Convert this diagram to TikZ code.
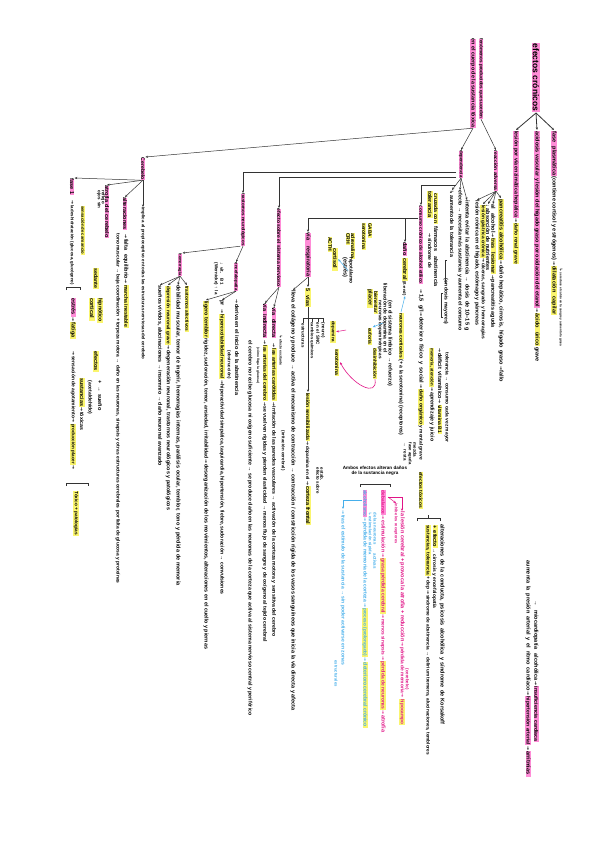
\documentclass[tikz,border=0pt]{standalone}
\usepackage{fontspec}
\setmainfont{Liberation Sans}
\newfontfamily\dvf{DejaVu Sans}
\usetikzlibrary{arrows.meta}
\definecolor{hlp}{RGB}{255,140,215}
\definecolor{hly}{RGB}{250,245,110}
\definecolor{mgt}{RGB}{225,20,135}
\definecolor{cyn}{RGB}{70,175,235}
\newcommand\fsA{\fontsize{4.6}{5.5}\selectfont\bfseries}
\newcommand\fsB{\fontsize{3.7}{4.5}\selectfont\bfseries}
\makeatletter
\newlength\tTl
\newlength\tTm
\newcommand\tT[2]{\sbox\z@{#2}%
 \setlength\tTl{\dimexpr \f@size pt * \numexpr #1*65536\relax / \number\wd\z@\relax}%
 \setlength\tTm{\dimexpr \f@size pt * 6 / 5\relax}%
 \ifdim\tTl>\tTm \setlength\tTl{\tTm}\fi
 {\fontsize{\tTl}{\tTl}\selectfont\makebox[#1pt][s]{#2}}}
\makeatother
\newcommand\hP[2]{{\fboxsep=0.6pt\colorbox{hlp}{\tT{#1}{#2}}}}
\newcommand\hY[2]{{\fboxsep=0.6pt\colorbox{hly}{\tT{#1}{#2}}}}
\newcommand\aR{\hspace{0.8pt}{\dvf →}\hspace{0.8pt}}
\newcommand\dR{{\dvf ↳}}
\tikzset{
 txt/.style={rotate=-90, anchor=west, inner sep=0pt, outer sep=0.6pt, font=\fsA},
 sm/.style={txt, font=\fsB},
 arr/.style={-{Stealth[length=2.6pt,width=2.2pt]}, line width=0.5pt, draw=black!80},
 ln/.style={line width=0.5pt, draw=black!80},
}
\begin{document}
\begin{tikzpicture}[x=1pt,y=-1pt]
\fill[white] (0,0) rectangle (600,848);
\useasboundingbox (0,0) rectangle (600,848);

% ---------- title and top-right branch ----------
\node[txt, font=\fontsize{8}{9}\selectfont\bfseries, fill=hlp, inner sep=0.9pt] (T) at (536,42) {\tT{68}{efectos crónicos}};
\node[txt] (c1) at (516,130) {\hP{86}{lesión por vía enzimática hepática}\aR\hY{40}{daño renal grave}};
\node[txt] (c2) at (537,130) {\hP{176}{acidosis vascular y lesión del hígado graso por oxidación del etanol}\aR\hY{32}{ácido úrico}\,\tT{16}{grave}};
\node[txt] (c3) at (554,130) {\hP{44}{fase plasmática}\,\tT{84}{(contiene cortisol y estrógenos)}\aR\hY{48}{dilatación capilar}};
\node[sm] (c3b) at (561,268) {\dR\,\tT{74}{se reduce el calcio en la sangre y aumenta la grasa}};
\draw[arr, line width=0.8pt] (T.east) -- (c1.west);
\draw[arr, line width=0.8pt] (T.east) -- (c2.west);
\draw[arr, line width=0.8pt] (T.east) -- (c3.west);

% ---------- fenomenos ----------
\node[txt, fill=hlp] (F1) at (481,38) {\tT{80}{fenómenos producidos que suceden}};
\node[txt, fill=hlp] (F2) at (473,38) {\tT{89}{en el cuerpo de la sustancia tóxica}};
\node[txt, fill=hlp] (S1) at (461,150) {\tT{27}{dependencia}};
\node[txt, fill=hlp] (S2) at (496,150) {\tT{40}{reacción adversa}};
\draw[arr] (F2.east) -- (S1.west);
\draw[arr] (F1.east) -- (S2.west);

% reaccion adversa children
\node[txt] (r1) at (477,200) {\tT{125}{lesión crónica en el hígado, estómago y páncreas}};
\node[txt] (r2) at (483,204) {\hY{52}{lesión gástrica crónica}\aR\tT{76}{úlceras, sangrado y hemorragias}};
\node[txt] (r3) at (488,204) {\tT{66}{↓ absorción de nutrientes}};
\node[txt] (r4) at (493,204) {\tT{28}{al alcohol}\aR\hY{35}{tras lesionar}\aR\tT{48}{pancreatitis aguda}};
\node[txt] (r5) at (501,198) {\hY{60}{pancreatitis alcohólica}\aR\tT{100}{daño hepático, cirrosis, hígado graso}\aR\tT{14}{fallo}};
\foreach \r in {r1,r2,r3,r4,r5} \draw[arr] (S2.east) -- (\r.west);

% dependencia children
\node[txt] (d1) at (452,190) {\dR\,\tT{62}{aumento de la tolerancia}};
\node[txt] (d2) at (460,190) {\tT{140}{efecto → necesita más sustancia y aumenta el consumo}};
\node[txt] (d3) at (467,200) {\tT{130}{intenta evitar la abstinencia → dosis de 10–15 g}};
\node[txt] (d4) at (430,190) {\hY{26}{tolerancia}};
\node[txt] (d5) at (436,192) {\hY{30}{cruzada con}};
\node[txt] (d6) at (436,226) {\tT{26}{fármacos}};
\node[txt] (d7) at (446,278) {\tT{46}{(en dosis mayores)}};
\node[txt] (q1) at (430,232) {\aR\tT{30}{síndrome de}};
\node[txt] (q2) at (436,256) {\tT{30}{abstinencia}};
\draw[arr] (S1.east) -- (d1.west);
\draw[arr] (S1.east) -- (d2.west);
\draw[arr] (S1.east) -- (d3.west);
\draw[ln] (443,293) -- (441,293) -- (441,317) -- (443,317);
\draw[ln] (447,260) -- (445,260) -- (445,283) -- (447,283);
\node[txt] (q3) at (432,347) {\hY{38}{memoria, atención}\aR\tT{49}{aprendizaje y juicio}};
\node[txt] (q4) at (440,347) {\aR\tT{46}{déficit vitamínico}\aR\hY{28}{vitamina B1}};
\node[txt] (q5) at (447,352) {\tT{90}{tolerancia → consumo cada vez mayor}};

% ---------- consumo cronico ----------
\node[txt, fill=hlp] (P) at (421,205) {\tT{78}{consumo crónico de alcohol etílico}};
\node[txt] (P2) at (421,288) {\aR\tT{18}{1,5 g/l}\aR\tT{66}{deterioro físico y social}\aR\hY{35}{daño orgánico}\,\tT{34}{y mental grave}};
\node[txt, fill=hlp] (DA) at (405,242) {\tT{13}{daño}};
\node[txt] (DA2) at (405,257) {\hY{22}{cerebral}\,\tT{14}{(ß-end)}};
\node[txt] (n1) at (401,312) {\hY{45}{neuronas corticales}\,\tT{76}{(+ a la serotonina) (receptores)}};
\node[txt] (n3) at (385,283) {\tT{69}{liberación de dopamina en el}};
\node[txt] (n4) at (390,300) {\tT{86}{(en el sistema límbico → refuerzo)}};
\node[txt] (n5) at (380,300) {\tT{58}{neuronas dopaminérgicas}};
\node[txt] (y1) at (370,288) {\hY{18}{placer}};
\node[txt] (y2) at (376,290) {\hY{22}{bienestar}};
\node[txt] (y3) at (370,327) {\hY{16}{euforia}};
\node[txt] (y4) at (375,347) {\hY{30}{desinhibición}};
\node[txt] (m7) at (364,222) {\hY{26}{serotonina}};
\node[txt] (m8) at (370,222) {\hY{14}{GABA}};
\node[txt] (m1) at (330,236) {\hY{14}{ACTH}};
\node[txt] (m2) at (335,247) {\hY{22}{cortisol}};
\node[txt] (m3) at (348,232) {\hY{11}{CRH}};
\node[txt] (m4) at (353,232) {\hY{25}{adrenalina}};
\node[txt] (m5) at (345,257) {\tT{21}{(estrés)}};
\node[txt] (m6) at (351,257) {\tT{26}{hipotálamo}};
\node[txt] (pk1) at (333,320) {\hY{21}{dopamina}};
\node[txt] (pk2) at (337,348) {\hY{26}{serotonina}};
\coordinate (pD) at (405,218);
\draw[arr] (pD) -- (DA.west);
\draw[arr, draw=cyn] (n1.west) -- (DA2.east);
\coordinate (ca1) at (383,323);
\draw[arr, draw=cyn] (ca1) -- (y3.north west);
\draw[arr, draw=cyn] (m6.south) -- (m2.north);
\coordinate (pa1) at (346,330);
\draw[arr, draw=mgt] (pa1) -- (pk1.north);
\draw[arr, draw=mgt, line width=0.6pt] (y4.east) .. controls (378,398) and (352,385) .. (pk2.north);

% lines from dependencia
\coordinate (k1) at (456,172);
\coordinate (k2) at (456,177);
\coordinate (k3) at (456,185);
\coordinate (pL) at (418,218);

% ---------- trastornos neurologicos ----------
\node[txt, fill=hlp] (TN) at (243,193) {\tT{52}{trastornos neurológicos}};
\node[txt, fill=hlp] (HE) at (236,262) {\tT{28}{encefalopatía}};
\node[sm] (w1) at (216,262) {\tT{32}{(Wernicke) ↑ la}};
\node[sm] (w2) at (222,262) {\tT{22}{↓ vit. B1}};
\node[txt, fill=hlp] (HM) at (180,253) {\tT{22}{hemorragia}};
\draw[arr] (TN.east) -- (HE.west);
\draw[arr] (TN.south east) -- (HM.north west);
\node[txt] (h1) at (160,285) {\tT{180}{sueños vívidos, alucinaciones → insomnio → daño neuronal avanzado}};
\node[txt] (h2) at (168,285) {\hY{58}{depresión neuronal grave}\aR\tT{160}{degeneración neuronal, trastornos neurológicos y patológicos}};
\node[txt] (h3) at (178,285) {\tT{300}{debilidad muscular, temor de ingerir, hemorragias internas, parálisis ocular, temblor, tono y pérdida de memoria}};
\node[txt] (h4) at (187,285) {\hY{45}{trastornos afectivos}};
\foreach \h in {h1,h2,h3,h4} \draw[arr] (HM.east) -- (\h.west);
\node[txt] (e1) at (206,300) {\hY{36}{ligero temblor}\,\tT{120}{rigidez, sudoración, temor, ansiedad, irritabilidad}\aR\tT{185}{desorganización de los movimientos, alteraciones en el cuello y piernas}};
\node[txt] (e2) at (222,300) {\tT{8}{pr}\aR\hY{64}{hiperexcitabilidad neuronal}\aR\tT{210}{hiperactividad simpática, taquicardia, hipertensión, fiebre, sudoración → convulsiones}};
\node[txt] (e3) at (237,298) {\aR\tT{91}{deriva en el inicio de la abstinencia}};
\node[sm] (e4) at (229,350) {\tT{30}{(obstrucción)}};
\node[txt] (e6) at (250,340) {\tT{375}{el cerebro no recibe glucosa ni oxígeno suficiente → se produce daño en las neuronas de la corteza que activa al sistema nervioso central y periférico}};
\draw[arr] (HE.east) -- (e1.west);
\draw[arr] (HE.east) -- (e2.west);

% ---------- efecto sobre SN ----------
\node[txt, fill=hlp] (EV) at (279,208) {\tT{78}{efecto sobre el sistema nervioso}};
\node[txt, fill=hlp] (VI) at (265,303) {\tT{34}{vía indirecta}};
\node[txt, fill=hlp] (VD) at (274,307) {\tT{30}{vía directa}};
\draw[arr] (EV.east) -- (VI.west);
\draw[arr] (EV.east) -- (VD.west);
\node[txt] (vi1) at (265,339) {\aR\hY{55}{las arterias del cerebro}\aR\tT{235}{se vuelven rígidas y pierden elasticidad → menos flujo de sangre y de oxígeno al tejido cerebral}};
\node[sm] (vi2) at (258,347) {\tT{36}{(cómo llega la glucosa)}};
\node[txt] (vd1) at (274,342) {\aR\hY{52}{las arterias carótidas}\aR\tT{230}{irritación de las paredes vasculares → activación de la corteza motora y sensitiva del cerebro}};
\node[sm] (vd2) at (281,335) {\dR\,\tT{26}{efecto excitante}};
\node[sm] (vd3) at (283,430) {\tT{40}{(irritación cerebral)}};

% ---------- via respiratoria ----------
\node[txt, fill=hlp] (VR) at (308,232) {\tT{44}{vía respiratoria}};
\node[txt] (Y5) at (308,287) {\hY{18}{5 vías}};
\node[txt] (t293) at (293,290) {\tT{420}{lleva el colágeno y produce → activa el mecanismo de contracción → contracción / constricción rígida de los vasos sanguíneos que inicia la vía directa y afecta}};
\draw[arr] (VR.east) -- (Y5.west);
\draw[arr] (VR.east) -- (t293.west);
\node[sm] (v1) at (303,323) {\tT{24}{estructuras}};
\node[sm] (v2) at (312,322) {\tT{36}{cambios químicos}};
\node[sm] (v3) at (318,322) {\tT{22}{en el SNC}};
\node[sm] (v4) at (323,322) {\tT{16}{(neuro)}};
\draw[ln] (303,318) -- (323,318);
\draw[ln] (303,318) -- (v1.west);
\draw[ln] (312,318) -- (v2.west);
\draw[ln] (318,318) -- (v3.west);
\draw[ln] (323,318) -- (v4.west);
\node[txt] (y6) at (308,392) {\hY{47}{lesión sensibilizada}\aR\tT{34}{dopamina en el}\aR\hY{38}{corteza frontal}};
\draw[arr] (Y5.east) -- (y6.west);
\node[sm] (y7) at (318,467) {\tT{26}{efecto sobre}};
\node[sm] (y8) at (322,467) {\tT{14}{estab.}};

% connectors from dependencia
\draw[arr] (k1) -| (TN.west);
\draw[arr] (k2) -| (EV.west);
\draw[arr] (k3) -| (P.west);
\draw[arr] (pL) -| (VR.west);

% ---------- cerebelo ----------
\node[txt, fill=hlp] (cer) at (143,157) {\tT{22}{Cerebelo}};
\draw[arr] (F2.east) -- (cer.north west);
\node[txt, fill=hlp] (fat) at (72,178) {\tT{16}{fase 1}};
\node[txt, fill=hlp] (atx) at (107,185) {\tT{52}{atrofia del cerebelo}};
\node[txt, fill=hlp] (alt) at (125,197) {\tT{32}{alteraciones}};
\node[txt] (imp) at (143,207) {\tT{152}{implica al propioceptivo en todas las estructuras nerviosas del cerebelo}};
\draw[arr] (cer.south east) -- (fat.north west);
\draw[arr] (cer.east) -- (atx.west);
\draw[arr] (cer.east) -- (alt.west);
\draw[arr] (cer.east) -- (imp.west);
\node[txt] (f1) at (72,199) {\aR\tT{80}{la deshidratación (glucosa, glucógeno)}};
\draw[ln] (66,290) -- (66,287) -- (80,287) -- (80,290);
\node[txt] (f2) at (73,297) {\hP{18}{estrés}\aR\hY{16}{fatiga}};
\node[txt] (f3) at (73,350) {\aR\tT{62}{sensación de agotamiento}\aR\hY{40}{producción placer}\aR};
\draw[ln] (66,486) -- (66,483) -- (88,483) -- (88,486);
\node[txt] (f4) at (76,490) {\hY{44}{Tóxico + patologías}};
\node[txt] (f5) at (83,205) {\hY{48}{sensación de cansancio}};
\node[txt] (f6) at (82,377) {\hY{28}{sustancias}\aR\tT{18}{tóxicas}};
\node[txt] (f7) at (90,380) {\tT{34}{(acetaldehído)}};
\node[sm] (a1) at (99,190) {\tT{18}{ojos sin}};
\node[sm] (a2) at (103,190) {\tT{16}{reflejo}};
\node[txt] (a4) at (96,267) {\hY{20}{sedante}};
\node[txt] (a5) at (92,297) {\hY{22}{cortical}};
\node[txt] (a6) at (100,297) {\hY{24}{hipnótico}};
\node[txt] (a7) at (96,350) {\hY{20}{efectos}};
\node[txt] (a8) at (100,380) {\tT{30}{+ → sueño}};
\node[txt] (al1) at (118,233) {\tT{350}{tono muscular → baja coordinación + torpeza motora → daño en las neuronas, sinapsis y otras estructuras cerebrales por falta de glucosa y proteínas}};
\node[txt] (al2) at (126,233) {\aR\tT{40}{falta equilibrio}\aR\hY{42}{marcha inestable}};

% ---------- lower middle ----------
\node[font=\fsA, align=center, inner sep=0pt] (H) at (375,471) {Ambos efectos alteran daños\\de la sustancia negra};
\draw[ln] (360,487) -- (360,484) -- (390,484) -- (390,487);
\node[txt, text=mgt] (mg1) at (383,489) {\hP{24}{de balance}\aR\tT{32}{estimulación}\aR\hY{55}{grasa pérdida cerebral}\aR\tT{36}{menos sinapsis}\aR\hY{48}{pérdida de neuronas}\aR\tT{18}{atrofia}};
\node[sm, text=mgt] (mg2) at (396,503) {\tT{40}{inhibe los receptores}};
\node[txt, text=mgt] (mg3) at (402,511) {\tT{130}{la lesión cerebral + provoca la atrofia + reducción}\aR\tT{46}{pérdida de memoria}\aR\hY{25}{hipocampo}};
\node[sm, text=mgt] (mg4) at (407,668) {\tT{22}{(cerebelo)}};
\coordinate (mc1) at (388,497);
\coordinate (mc2) at (402,497);
\draw[arr, draw=mgt] (mc1) -- (mc2) -- (mg3.west);
\draw[arr, draw=mgt] (mc1) -- (mg2.west);
\node[txt, text=cyn] (cy1) at (365,489) {\hP{26}{alcoholismo}\aR\tT{80}{pérdida de memoria de la corteza}\aR\hY{48}{proceso (prolongado)}\aR\hY{64}{deterioro cerebral crónico}};
\node[sm, text=cyn] (cy2) at (370,512) {\dR\,\tT{38}{estimulación rápida}};
\node[sm, text=cyn] (cy3) at (375,512) {\tT{32}{de las neuronas}};
\node[sm, text=cyn] (cy4) at (375,553) {\tT{16}{activas}};
\node[txt, text=cyn] (cy5) at (343,509) {\aR\tT{150}{tras el estímulo de la sustancia → sin poder activarse en zonas}};
\node[sm, text=cyn] (cy6) at (336,660) {\tT{26}{estructurales}};
\coordinate (cc1) at (362,500);
\draw[arr, draw=cyn] (cc1) -| (cy5.west);

\node[sm] (s1) at (405,442) {\tT{18}{→ resta}};
\node[sm] (s2) at (410,442) {\tT{22}{fase aguda}};
\node[sm] (s3) at (415,442) {\tT{16}{mezcla}};
\node[txt] (s5) at (421,471) {\hY{36}{efectos tóxicos}};
\draw[ln] (417,521) -- (417,518) -- (440,518) -- (440,521);
\draw[ln] (428,518) -- (428,515);
\node[txt] (b1) at (428,524) {\hY{50}{sustancias, tolerancia}\,\tT{13}{+ dep}\aR\tT{160}{síndrome de abstinencia → delirium tremens, alucinaciones, temblores}};
\node[txt] (b2) at (435,524) {\hY{22}{+ efecto}\,\tT{60}{→ cirrosis y encefalopatía}};
\node[txt] (z1) at (442,524) {\tT{200}{alteraciones de la conducta, psicosis alcohólica y síndrome de Korsakoff}};

% ---------- lower right ----------
\node[txt] (z3) at (528,560) {\tT{130}{aumenta la presión arterial y el ritmo cardíaco}\aR\hP{48}{hipertensión arterial}\aR\hP{25}{arritmias}};
\node[txt] (z4) at (536,600) {\tT{80}{→ miocardiopatía alcohólica}\aR\hP{55}{insuficiencia cardíaca}};
\end{tikzpicture}
\end{document}
